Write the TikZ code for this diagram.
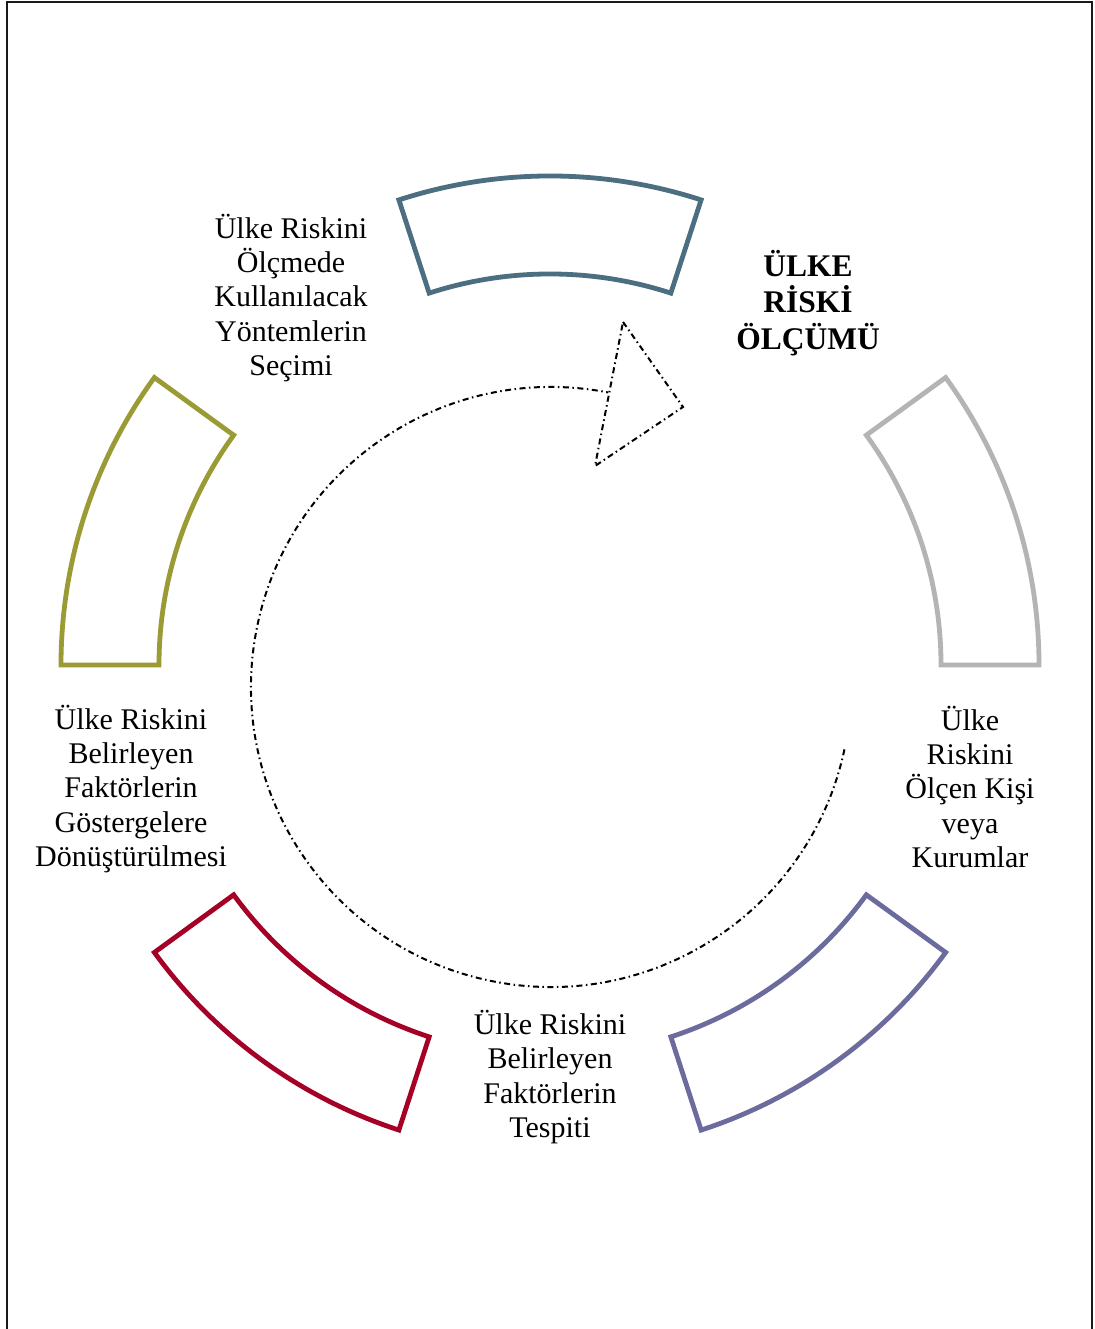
\documentclass[tikz,border=0pt]{standalone}
\usepackage{fontspec}
\setmainfont{Liberation Serif}
\definecolor{segteal}{RGB}{75,110,129}
\definecolor{seggray}{RGB}{180,180,180}
\definecolor{segviolet}{RGB}{107,107,158}
\definecolor{segred}{RGB}{165,0,38}
\definecolor{segolive}{RGB}{155,155,53}
\begin{document}
\begin{tikzpicture}[x=1pt,y=1pt,
  ringpiece/.style={line width=4.8pt, line join=miter},
  flow/.style={line width=2pt, dash pattern=on 6pt off 3.5pt on 1.5pt off 3.5pt},
  txt/.style={align=center, font=\fontsize{30}{34.2}\selectfont, inner sep=0pt},
  headtxt/.style={align=center, font=\fontsize{31.5}{36.5}\selectfont\bfseries, inner sep=0pt}]
\useasboundingbox (0,0) rectangle (1094,1329);
\fill[white] (0,0) rectangle (1094,1329);
% open frame
\draw[line width=2pt, color=black!90] (7,0) -- (7,1327) -- (1092,1327) -- (1092,0);

% ring of five annular sectors
\coordinate (hub) at (550,664);
\def\ringpart#1#2#3{%
  \draw[ringpiece,#3] ([shift={(#1:489)}]hub) arc[start angle=#1,end angle=#2,radius=489]
    -- ([shift={(#2:391)}]hub) arc[start angle=#2,end angle=#1,radius=391] -- cycle;}
\ringpart{72}{108}{segteal}
\ringpart{0}{36}{seggray}
\ringpart{-72}{-36}{segviolet}
\ringpart{-144}{-108}{segred}
\ringpart{144}{180}{segolive}

% circular flow arrow
\coordinate (mid) at (551,642);
\coordinate (tipA) at (623,1007);
\coordinate (tipB) at (683,922);
\coordinate (tipC) at (595,863);
\draw[flow] ([shift={(-12:300)}]mid) arc[start angle=-12,end angle=-281,radius=300];
\draw[flow] (tipA) -- (tipB) -- (tipC) -- cycle;

% labels
\node[txt] (method) at (291,1031) {Ülke Riskini\\Ölçmede\\Kullanılacak\\Yöntemlerin\\Seçimi};
\node[headtxt] (head) at (808,1026) {ÜLKE\\RİSKİ\\ÖLÇÜMÜ};
\node[txt] (actors) at (970,542) {Ülke\\Riskini\\Ölçen Kişi\\veya\\Kurumlar};
\node[txt] (factors) at (550,252) {Ülke Riskini\\Belirleyen\\Faktörlerin\\Tespiti};
\node[txt] (indicators) at (131,540) {Ülke Riskini\\Belirleyen\\Faktörlerin\\Göstergelere\\Dönüştürülmesi};
\end{tikzpicture}
\end{document}
